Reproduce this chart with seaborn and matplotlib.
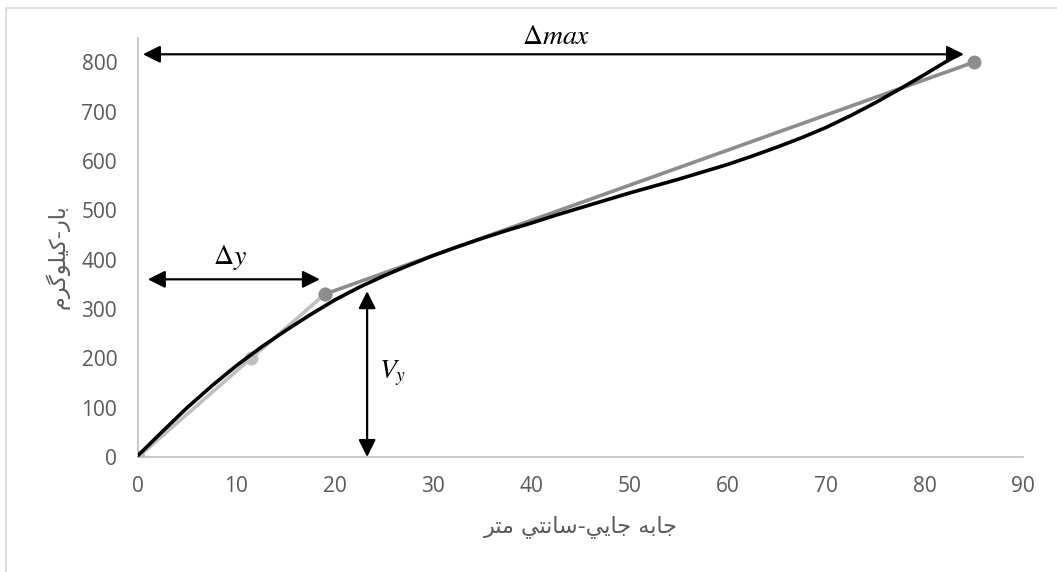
import numpy as np
import pandas as pd
import matplotlib
matplotlib.use("Agg")
import matplotlib.pyplot as plt
import matplotlib.patches as patches
import seaborn as sns

# =========================
# DATA
# =========================
# measured points, light grey part (first segments)
test_x_a = [0, 11.5, 19]
test_y_a = [0, 200, 330]

# measured points, darker grey part
test_x_b = [19, 85]
test_y_b = [330, 800]

# black idealised curve
curve_x = [0, 2.5, 5, 7.5, 10, 12.5, 15, 17.5, 20, 22.5, 25, 27.5, 30, 32.5, 35, 37.5,
           40, 42.5, 45, 47.5, 50, 52.5, 55, 57.5, 60, 62.5, 65, 67.5, 70, 72.5, 75,
           77.5, 80, 82, 83.5]
curve_y = [3, 52, 100, 144, 185, 222, 256, 288, 318, 344, 367, 388, 408, 426, 443, 459,
           474, 490, 505, 520, 535, 549, 563, 578, 593, 610, 628, 647, 668, 692, 718,
           746, 775, 799, 817]

x_ticks = [0, 10, 20, 30, 40, 50, 60, 70, 80, 90]
y_ticks = [0, 100, 200, 300, 400, 500, 600, 700, 800]

# Arabic labels, written in presentation forms, visual (left to right) order
x_label = "\uFEAE\uFE98\uFEE3 \uFEF2\uFE98\uFEE7\uFE8E\uFEB3-\uFEF2\uFEF3\uFE8E\uFE9F \uFEEA\uFE91\uFE8E\uFE9F"  # جابه جايي-سانتي متر
y_label = "\uFEE1\uFEAE\uFB94\uFEEE\uFEE0\uFEF4\uFEDB-\uFEAD\uFE8E\uFE91"  # بار-كيلوگرم

df_a = pd.DataFrame({"x": test_x_a, "y": test_y_a})
df_b = pd.DataFrame({"x": test_x_b, "y": test_y_b})
df_c = pd.DataFrame({"x": curve_x, "y": curve_y})

# =========================
# STYLE
# =========================
sns.set_theme(style="white")
plt.rcParams["font.family"] = ["Open Sans", "DejaVu Sans"]
plt.rcParams["mathtext.fontset"] = "stix"

TXT = "#595959"
AX = "#bfbfbf"
LIGHT = "#bfbfbf"
MID = "#8c8c8c"

W, H = 1057, 572
fig = plt.figure(figsize=(W / 100, H / 100), dpi=100)
ax = fig.add_axes([138 / W, 1 - 457 / H, (1023 - 138) / W, (457 - 38) / H])

# =========================
# LINES
# =========================
sns.lineplot(data=df_a, x="x", y="y", ax=ax, color=LIGHT, lw=2.6,
             marker="o", markersize=10, markeredgewidth=0, sort=False, zorder=2)
sns.lineplot(data=df_b, x="x", y="y", ax=ax, color=MID, lw=2.6,
             marker="o", markersize=10, markeredgewidth=0, sort=False, zorder=3)
sns.lineplot(data=df_c, x="x", y="y", ax=ax, color="black", lw=2.6,
             sort=False, zorder=4)

# =========================
# ARROWS + TEXT
# =========================
arrow = dict(arrowstyle="<|-|>,head_length=0.4,head_width=0.2", color="black",
             lw=1.6, mutation_scale=26, shrinkA=0, shrinkB=0)

ax.annotate("", xy=(84, 816), xytext=(0.5, 816), arrowprops=arrow,
            annotation_clip=False, zorder=5)
ax.text(42.5, 851, r"$\Delta max$", fontsize=20, ha="center", va="center",
        color="black", clip_on=False)

ax.annotate("", xy=(18.5, 360), xytext=(1.0, 360), arrowprops=arrow, zorder=5)
ax.text(9.3, 405, r"$\Delta y$", fontsize=20, ha="center", va="center", color="black")

ax.annotate("", xy=(23.3, 336), xytext=(23.3, 0), arrowprops=arrow,
            annotation_clip=False, zorder=5)
ax.text(25.9, 170, r"$V_y$", fontsize=20, ha="center", va="center", color="black")

# =========================
# AXES
# =========================
ax.set_xlim(0, 90)
ax.set_ylim(0, 849)
ax.set_xticks(x_ticks)
ax.set_yticks(y_ticks)
ax.tick_params(axis="both", length=0, labelsize=15, labelcolor=TXT)
ax.tick_params(axis="x", pad=14)
ax.tick_params(axis="y", pad=15)

for s in ["top", "right"]:
    ax.spines[s].set_visible(False)
for s in ["left", "bottom"]:
    ax.spines[s].set_color(AX)
    ax.spines[s].set_linewidth(1.2)

ax.set_xlabel(x_label, fontsize=16, color=TXT, family="DejaVu Sans", va="center")
ax.xaxis.set_label_coords(0.5, (457 - 527) / 419)
ax.set_ylabel(y_label, fontsize=16, color=TXT, family="DejaVu Sans", va="center")
ax.yaxis.set_label_coords((57 - 138) / 885, (457 - 257) / 419)

# chart area border (cut by the image on the right and bottom)
border = patches.Rectangle((6 / W, -0.5), 2, 0.5 + 1 - 8 / H, transform=fig.transFigure,
                           fill=False, edgecolor="#d9d9d9", lw=1.2)
fig.add_artist(border)

plt.savefig("out.png", dpi=100)
